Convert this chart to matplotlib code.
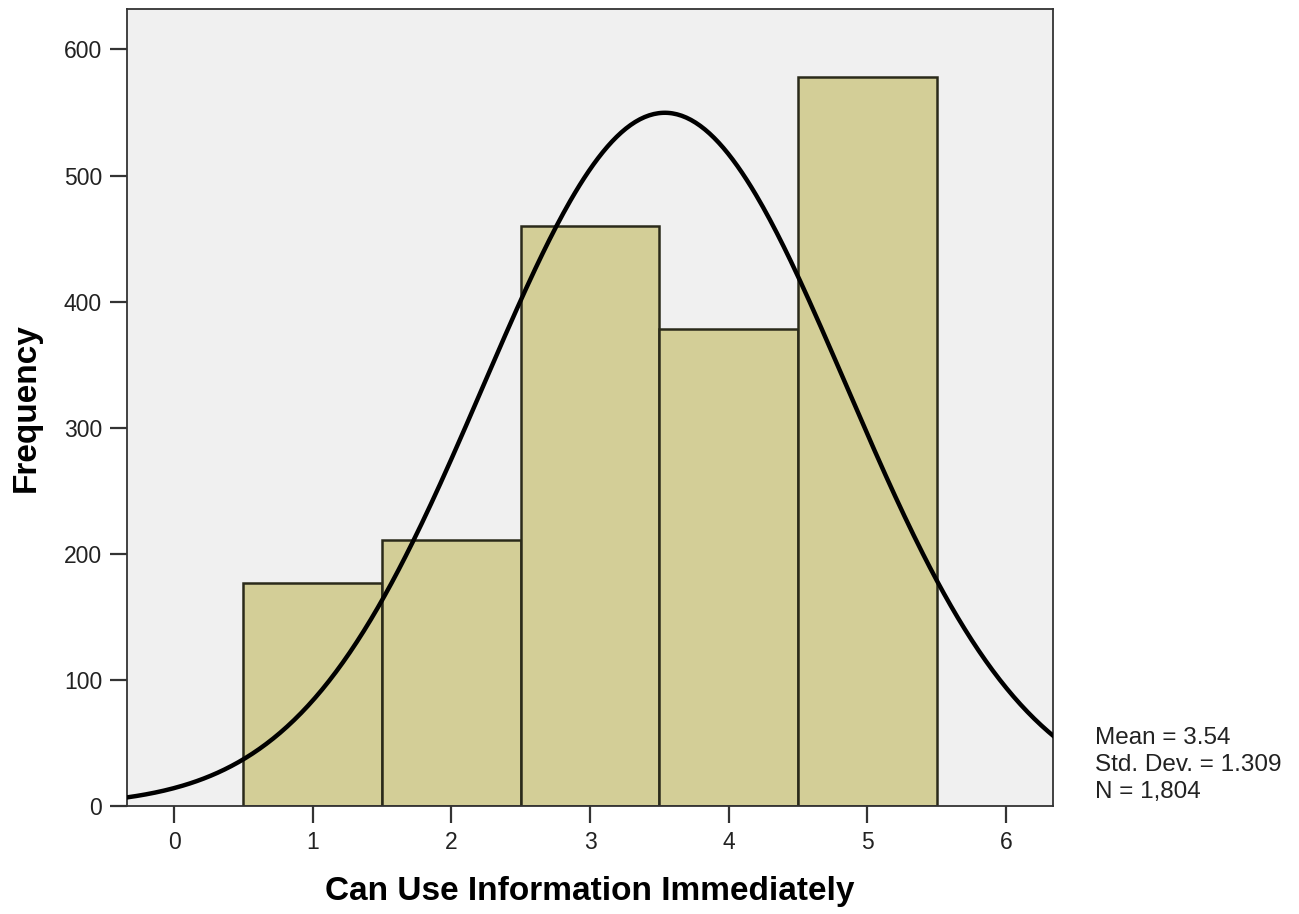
import numpy as np
import matplotlib.pyplot as plt

plt.rcParams['font.family'] = ['Liberation Sans', 'DejaVu Sans']

# histogram counts per response value
values = [1, 2, 3, 4, 5]
counts = [177, 211, 460, 378, 578]
mean = 3.54
std = 1.309
n = 1804

fig = plt.figure(figsize=(12.99, 9.14), dpi=100)
ax = fig.add_axes([0.0978, 0.1182, 0.7128, 0.8718])
ax.set_facecolor('#F0F0F0')

ax.bar(values, counts, width=1.0, color='#D3CE97', edgecolor='#2a2a1a',
       linewidth=1.8, zorder=2)

# normal curve scaled to counts (bin width 1)
xs = np.linspace(-0.34, 6.34, 400)
ys = n / (std * np.sqrt(2 * np.pi)) * np.exp(-0.5 * ((xs - mean) / std) ** 2)
ax.plot(xs, ys, color='black', lw=3.2, zorder=3)

ax.set_xlim(-0.34, 6.34)
ax.set_ylim(0, 632)
ax.set_xticks(range(0, 7))
ax.set_yticks(range(0, 601, 100))
ax.tick_params(labelsize=16.5, length=12, width=1.6, color='#333333', pad=6,
               labelcolor='#222222')
for s in ax.spines.values():
    s.set_linewidth(1.3)
    s.set_color('#333333')

ax.set_xlabel('Can Use Information Immediately', fontsize=24, fontweight='bold', labelpad=16)
ax.set_ylabel('Frequency', fontsize=24, fontweight='bold', labelpad=16)

fig.text(0.843, 0.121, 'Mean = 3.54\nStd. Dev. = 1.309\nN = 1,804',
         fontsize=17.5, linespacing=1.3, va='bottom', ha='left', color='#222222')

fig.savefig('out.png', dpi=100)
